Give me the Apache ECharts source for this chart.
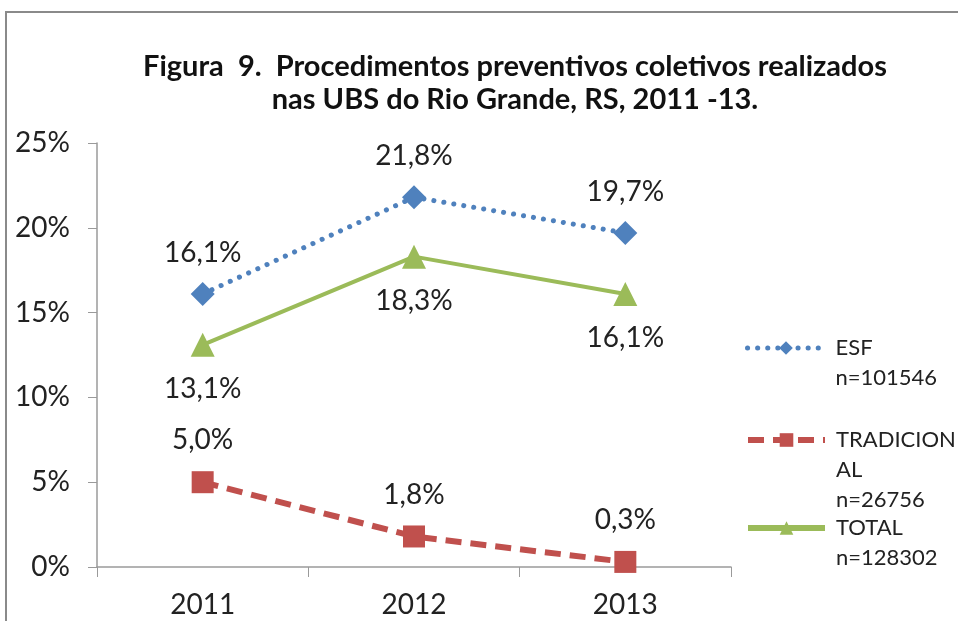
<!DOCTYPE html>
<html><head><meta charset="utf-8">
<script src="https://cdn.jsdelivr.net/npm/echarts@6/dist/echarts.min.js"></script>
<style>html,body{margin:0;padding:0;background:#fff}#c{width:958px;height:621px}</style>
</head><body><div id="c"></div>
<script>
const categories = ['2011', '2012', '2013'];
const esf = [16.1, 21.8, 19.7];
const tradicional = [5.0, 1.8, 0.3];
const total = [13.1, 18.3, 16.1];
const yTicks = [0, 5, 10, 15, 20, 25];
const titleLines = ['Figura  9.  Procedimentos preventivos coletivos realizados', 'nas UBS do Rio Grande, RS, 2011 -13.'];
const legendTexts = {
  'ESF': ' \nESF\nn=101546',
  'TRADICIONAL': ' \n \nTRADICION\nAL\nn=26756',
  'TOTAL': ' \nTOTAL\nn=128302'
};
const FONT = 'Lato';
const fmt = v => v.toFixed(1).replace('.', ',') + '%';
const chart = echarts.init(document.getElementById('c'), null, {renderer: 'canvas'});
const lbl = (pos, dist) => ({show: true, position: pos, distance: dist, formatter: p => fmt(p.value), color: '#222', fontSize: 28, fontFamily: FONT});
function legendAt(name, top, lw) {
  return {
    data: [name], left: 745, top: top, orient: 'vertical', padding: 0,
    itemWidth: 77, itemHeight: 17,
    lineStyle: {width: lw},
    formatter: n => legendTexts[n],
    textStyle: {fontSize: 22, fontFamily: FONT, color: '#222', lineHeight: 30, padding: [0, 0, 0, 6]}
  };
}
chart.setOption({
  animation: false,
  backgroundColor: '#fff',
  title: {
    text: titleLines.join('\n'), left: 510, top: 45, textAlign: 'center',
    textStyle: {fontSize: 29, fontWeight: 'bold', fontFamily: FONT, color: '#111', lineHeight: 33}
  },
  graphic: [{type: 'rect', shape: {x: 6, y: 12, width: 1000, height: 700}, style: {fill: null, stroke: '#8a8a8a', lineWidth: 2}, silent: true}],
  legend: [legendAt('ESF', 348 - 45, 5), legendAt('TRADICIONAL', 440 - 75, 6), legendAt('TOTAL', 528 - 45, 6)],
  grid: {left: 97, right: 227, top: 143, bottom: 54},
  xAxis: {
    type: 'category', data: categories, boundaryGap: true,
    axisLine: {lineStyle: {color: '#9a9a9a', width: 1.5}},
    axisTick: {show: true, length: 10, alignWithLabel: false, lineStyle: {color: '#9a9a9a'}},
    axisLabel: {fontSize: 28, fontFamily: FONT, color: '#222', margin: 24}
  },
  yAxis: {
    type: 'value', min: 0, max: 25, interval: 5,
    axisLine: {show: true, lineStyle: {color: '#9a9a9a', width: 1.5}},
    axisTick: {show: true, length: 9, lineStyle: {color: '#9a9a9a'}},
    splitLine: {show: false},
    axisLabel: {fontSize: 28, fontFamily: FONT, color: '#222', margin: 27, formatter: v => yTicks.includes(v) ? v + '%' : ''}
  },
  series: [
    {name: 'ESF', type: 'line', data: esf, symbol: 'diamond', symbolSize: 24,
     itemStyle: {color: '#4F81BD'}, lineStyle: {color: '#4F81BD', width: 5, type: [0.1, 10], cap: 'round'},
     label: lbl('top', 15)},
    {name: 'TRADICIONAL', type: 'line', data: tradicional, symbol: 'rect', symbolSize: 22,
     itemStyle: {color: '#C0504D'}, lineStyle: {color: '#C0504D', width: 6, type: [16, 9]},
     label: lbl('top', 17)},
    {name: 'TOTAL', type: 'line', data: total, symbol: 'triangle', symbolSize: 24,
     itemStyle: {color: '#9BBB59'}, lineStyle: {color: '#9BBB59', width: 4},
     label: lbl('bottom', 18)}
  ]
});
</script></body></html>
